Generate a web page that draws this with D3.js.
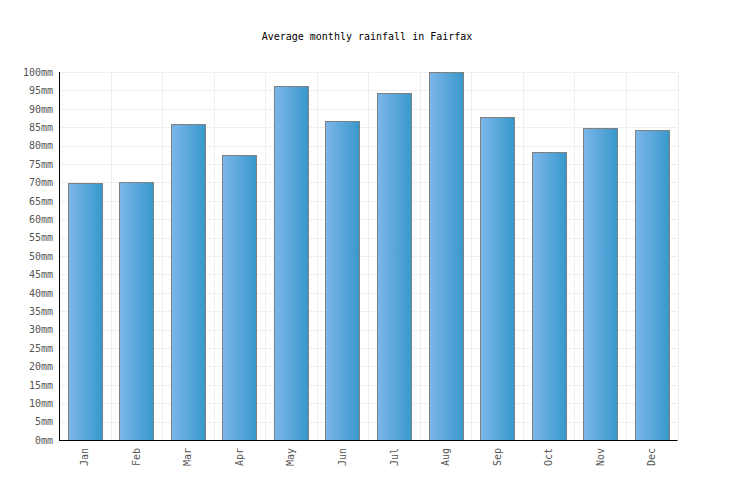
<!DOCTYPE html>
<html><head><meta charset="utf-8">
<script src="https://cdn.jsdelivr.net/npm/d3@7"></script>
<style>body{margin:0;background:#fff}svg{display:block}</style>
</head><body>
<svg id="c" width="736" height="500"></svg>
<script>
const months = ["Jan","Feb","Mar","Apr","May","Jun","Jul","Aug","Sep","Oct","Nov","Dec"];
const rainfall = [69.8, 70.0, 85.8, 77.4, 96.1, 86.8, 94.2, 99.9, 87.9, 78.2, 84.7, 84.2];
const yTicks = d3.range(0, 101, 5);
const title = "Average monthly rainfall in Fairfax";

const svg = d3.select("#c");
const m = {l:59, r:677.5, t:72, b:440};
const font = "'DejaVu Sans Mono', 'Liberation Mono', monospace";

const x = d3.scaleBand().domain(months).range([m.l, m.r]).paddingInner(0).paddingOuter(0);
const y = d3.scaleLinear().domain([0,100]).range([m.b, m.t]);

const defs = svg.append("defs");
const g = defs.append("linearGradient").attr("id","bg").attr("x1","0").attr("x2","1").attr("y1","0").attr("y2","0");
g.append("stop").attr("offset","0%").attr("stop-color","#7db6ea");
g.append("stop").attr("offset","100%").attr("stop-color","#3898cb");

svg.append("text").attr("x",367).attr("y",40).attr("text-anchor","middle")
  .attr("font-family",font).attr("font-size",10).attr("fill","#000").text(title);

// grid
const grid = svg.append("g").attr("stroke","#efefef").attr("stroke-width",1);
grid.selectAll("line.h").data(yTicks).join("line")
  .attr("x1",m.l).attr("x2",m.r).attr("y1",d=>Math.round(y(d))+0.5).attr("y2",d=>Math.round(y(d))+0.5);
grid.selectAll("line.v").data(months.slice(1).concat(["end"])).join("line")
  .attr("x1",(d,i)=>Math.round(i<11 ? x(d) : m.r)+0.5).attr("x2",(d,i)=>Math.round(i<11 ? x(d) : m.r)+0.5)
  .attr("y1",m.t).attr("y2",m.b);

// bars
const bw = 34;
svg.append("g").selectAll("rect").data(rainfall).join("rect")
  .attr("x",(d,i)=>Math.round(x(months[i]) + x.bandwidth()/2 - bw/2)+0.5)
  .attr("y",d=>Math.round(y(d))+0.5)
  .attr("width",bw)
  .attr("height",d=>Math.round(y(0))-Math.round(y(d)))
  .attr("fill","url(#bg)").attr("stroke","#808080").attr("stroke-width",1);

// y axis
const ya = svg.append("g").attr("transform",`translate(${m.l},0)`)
  .call(d3.axisLeft(y).tickValues(yTicks).tickFormat(d=>d+"mm").tickSize(0).tickPadding(6));
ya.select(".domain").attr("stroke","#000").attr("d",`M0.5,${m.t}V${m.b}`);
ya.selectAll("text").attr("font-family",font).attr("font-size",10).attr("fill","#555");

// x axis
const xa = svg.append("g").attr("transform",`translate(0,${m.b})`)
  .call(d3.axisBottom(x).tickSize(0));
xa.select(".domain").attr("stroke","#000").attr("d",`M${m.l},0.5H${m.r}`);
xa.selectAll("text").attr("font-family",font).attr("font-size",10).attr("fill","#555")
  .attr("transform","rotate(-90)").attr("text-anchor","end").attr("dy","0.35em").attr("x",-8).attr("y",0);
</script>
</body></html>
